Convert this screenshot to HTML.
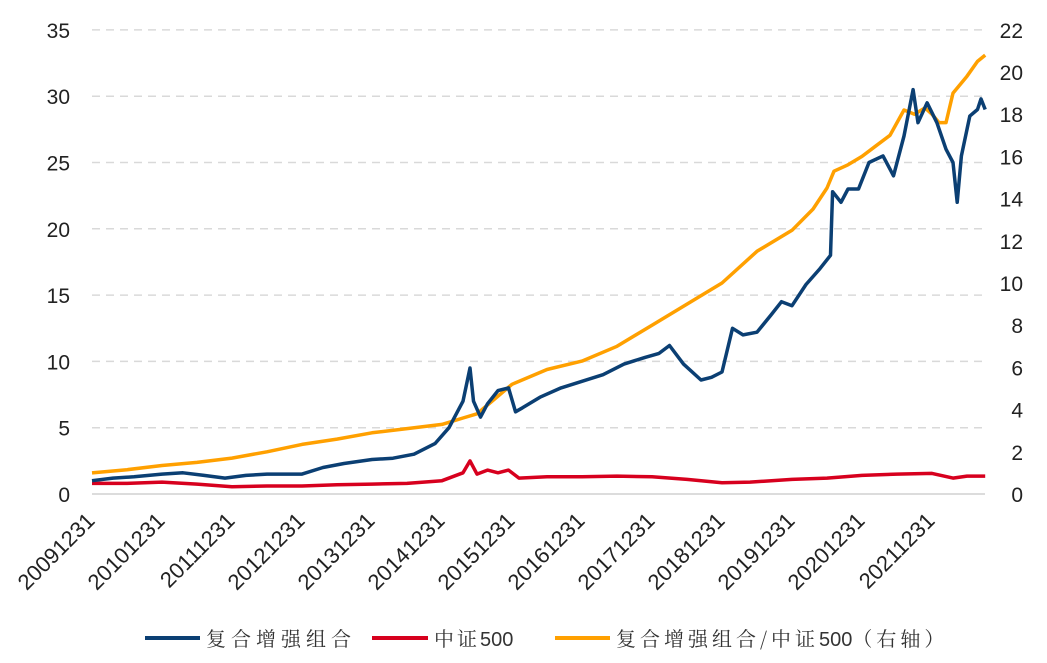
<!DOCTYPE html>
<html><head><meta charset="utf-8"><style>
html,body{margin:0;padding:0;background:#fff;}
svg{display:block;font-family:"Liberation Sans","Noto Sans CJK SC",sans-serif;}
</style></head><body>
<svg id="chart" width="1047" height="663" viewBox="0 0 1047 663" xmlns="http://www.w3.org/2000/svg">
<g id="grid"></g><g id="axes"></g><g id="series"></g>
<g font-size="20" fill="#333">
<line x1="145" y1="638" x2="200" y2="638" stroke="#0b3f73" stroke-width="4"/>
<text x="206" y="646" letter-spacing="5" font-family="'Noto Serif CJK SC',serif">复合增强组合</text>
<line x1="372" y1="638" x2="428" y2="638" stroke="#d7001e" stroke-width="4"/>
<text x="434" y="646" letter-spacing="3" font-family="'Noto Serif CJK SC',serif">中证<tspan font-family="'Liberation Sans',sans-serif" letter-spacing="0">500</tspan></text>
<line x1="555" y1="638" x2="610" y2="638" stroke="#ffa000" stroke-width="4"/>
<text x="616" y="646" letter-spacing="4" font-family="'Noto Serif CJK SC',serif">复合增强组合/中证<tspan font-family="'Liberation Sans',sans-serif" letter-spacing="0">500</tspan>（右轴）</text>
</g>
</svg>
<script>
const xTickLabels=["20091231","20101231","20111231","20121231","20131231","20141231","20151231","20161231","20171231","20181231","20191231","20201231","20211231"];
const leftTicks=[0,5,10,15,20,25,30,35];
const rightTicks=[0,2,4,6,8,10,12,14,16,18,20,22];
const compT=[2010.0,2010.3,2010.6,2011.0,2011.3,2011.6,2011.9,2012.2,2012.5,2012.8,2013.0,2013.3,2013.6,2014.0,2014.3,2014.6,2014.9,2015.1,2015.3,2015.4,2015.45,2015.55,2015.65,2015.8,2015.95,2016.05,2016.15,2016.4,2016.7,2017.0,2017.3,2017.6,2017.9,2018.1,2018.25,2018.45,2018.7,2018.85,2019.0,2019.15,2019.3,2019.5,2019.7,2019.85,2020.0,2020.2,2020.4,2020.55,2020.58,2020.7,2020.8,2020.95,2021.1,2021.3,2021.45,2021.6,2021.73,2021.8,2021.93,2022.07,2022.2,2022.3,2022.36,2022.42,2022.54,2022.65,2022.7,2022.76];
const compV=[1.0,1.2,1.3,1.5,1.6,1.4,1.2,1.4,1.5,1.5,1.5,2.0,2.3,2.6,2.7,3.0,3.8,5.0,7.0,9.5,7.0,5.8,6.8,7.8,8.0,6.2,6.5,7.3,8.0,8.5,9.0,9.8,10.3,10.6,11.2,9.8,8.6,8.8,9.2,12.5,12.0,12.2,13.5,14.5,14.2,15.8,17.0,18.0,22.8,22.0,23.0,23.0,25.0,25.5,24.0,27.0,30.5,28.0,29.5,28.0,26.0,25.0,22.0,25.5,28.5,29.0,29.8,29.0];
const csiT=[2010.0,2010.5,2011.0,2011.5,2012.0,2012.5,2013.0,2013.5,2014.0,2014.5,2015.0,2015.3,2015.4,2015.5,2015.65,2015.8,2015.95,2016.1,2016.5,2017.0,2017.5,2018.0,2018.5,2019.0,2019.4,2020.0,2020.5,2021.0,2021.5,2022.0,2022.3,2022.5,2022.76];
const csiV=[0.8,0.8,0.9,0.75,0.55,0.6,0.6,0.7,0.75,0.8,1.0,1.6,2.5,1.5,1.8,1.6,1.8,1.2,1.3,1.3,1.35,1.3,1.1,0.85,0.9,1.1,1.2,1.4,1.5,1.55,1.2,1.35,1.35];
const ratioT=[2010.0,2010.5,2011.0,2011.5,2012.0,2012.5,2013.0,2013.5,2014.0,2014.5,2015.0,2015.3,2015.5,2015.75,2016.0,2016.5,2017.0,2017.5,2018.0,2018.5,2019.0,2019.5,2020.0,2020.3,2020.5,2020.6,2020.8,2021.0,2021.2,2021.4,2021.6,2021.75,2021.9,2022.0,2022.1,2022.2,2022.3,2022.5,2022.65,2022.76];
const ratioV=[1.0,1.15,1.35,1.5,1.7,2.0,2.35,2.6,2.9,3.1,3.3,3.6,3.8,4.5,5.2,5.9,6.3,7.0,8.0,9.0,10.0,11.5,12.5,13.5,14.5,15.3,15.6,16.0,16.5,17.0,18.2,18.0,18.3,18.0,17.6,17.6,19.0,19.8,20.5,20.8];

const NS="http://www.w3.org/2000/svg";
const X0=92,PX=70,Y0=494,LS=13.26,RS=21.1,XR=985;
const xs=t=>X0+(t-2010)*PX;
const yl=v=>Y0-v*LS;
const yr=v=>Y0-v*RS;
function mk(tag,attrs,parent){const e=document.createElementNS(NS,tag);for(const k in attrs)e.setAttribute(k,attrs[k]);parent.appendChild(e);return e;}
const grid=document.getElementById('grid'),axes=document.getElementById('axes'),ser=document.getElementById('series');
leftTicks.forEach(v=>{
  if(v>0){const g=mk('line',{x1:X0,x2:XR,y1:yl(v),y2:yl(v),stroke:'#d9d9d9','stroke-width':1.5,'stroke-dasharray':'8 6'},grid);
  
  }
  const t=mk('text',{x:70,y:yl(v)+8,'text-anchor':'end','font-size':21,fill:'#222'},axes);t.textContent=v;
  
  
});
const base=mk('line',{x1:X0,x2:XR,y1:Y0,y2:Y0,stroke:'#d0d0d0','stroke-width':1.5},axes);


rightTicks.forEach(v=>{
  const t=mk('text',{x:1023,y:yr(v)+8,'text-anchor':'end','font-size':21,fill:'#222'},axes);t.textContent=v;
  
  
});
xTickLabels.forEach((s,i)=>{
  const x=X0+i*PX+4,y=Y0+28;
  const t=mk('text',{x:x,y:y,'text-anchor':'end','font-size':22,fill:'#222',transform:`rotate(-45 ${x} ${y})`},axes);t.textContent=s;
  
  
});
function line(T,V,yf,color,name){
  const d=T.map((t,i)=>(i?'L':'M')+xs(t).toFixed(1)+','+yf(V[i]).toFixed(1)).join('');
  const p=mk('path',{d:d,fill:'none',stroke:color,'stroke-width':3.5,'stroke-linejoin':'round'},ser);
  
  
}
line(csiT,csiV,yl,'#d7001e','csi500-line');
line(ratioT,ratioV,yr,'#ffa000','ratio-line');
line(compT,compV,yl,'#0b3f73','composite-line');
</script>
</body></html>
